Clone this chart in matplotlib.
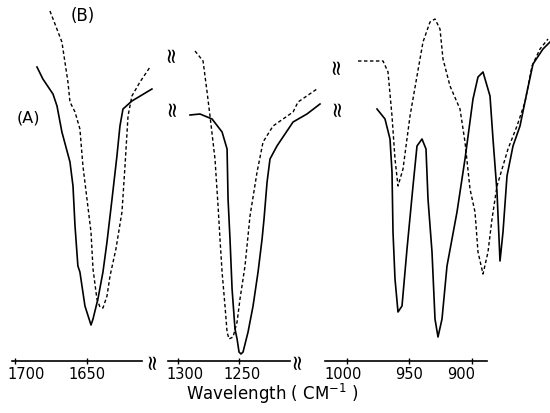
import matplotlib
matplotlib.use("Agg")
import matplotlib.pyplot as plt
from matplotlib.transforms import ScaledTranslation

# Wavenumbers (cm-1) and transmittance (arbitrary units, 0 = baseline)
# Curve (A) solid, curve (B) dashed, three spectral windows

# window 1: 1700-1610
a1_x = [1684.7, 1680.6, 1673.6, 1670.8, 1667.4, 1661.8, 1659.7, 1658.3, 1656.3, 1654.9,
        1651.4, 1647.2, 1645.8, 1642.4, 1638.9, 1636.1, 1632.6, 1629.2, 1627.1, 1625.0,
        1618.8, 1604.9]
a1_y = [294, 282, 267, 255, 229, 199, 175, 135, 95, 89,
        55, 36, 42, 62, 89, 119, 162, 205, 235, 252,
        260, 272]
b1_x = [1675.7, 1672.2, 1667.4, 1665.3, 1663.2, 1661.8, 1658.3, 1654.9, 1652.8, 1650.0,
        1647.2, 1645.8, 1643.1, 1641.0, 1638.9, 1636.1, 1634.0, 1629.9, 1625.7, 1623.6,
        1621.5, 1618.8, 1613.2, 1606.2]
b1_y = [350, 337, 319, 299, 279, 259, 249, 232, 195, 162,
        129, 92, 62, 54, 53, 65, 85, 112, 149, 195,
        245, 265, 279, 294]

# window 2: 1300-1210
a2_x = [1290.2, 1282.0, 1272.1, 1263.9, 1259.8, 1259.0, 1257.4, 1255.7, 1253.3, 1251.6,
        1250.0, 1248.4, 1246.7, 1242.6, 1238.5, 1234.4, 1231.1, 1229.5, 1227.0, 1224.6,
        1218.9, 1205.7, 1194.3, 1183.6]
a2_y = [246, 247, 242, 229, 212, 162, 122, 72, 32, 22,
        9, 7, 9, 29, 55, 89, 122, 142, 179, 202,
        215, 239, 247, 257]
b2_x = [1286.1, 1279.5, 1276.2, 1273.8, 1269.7, 1267.2, 1265.6, 1263.9, 1261.5, 1259.8,
        1258.2, 1254.9, 1251.6, 1249.2, 1245.1, 1241.0, 1235.2, 1230.3, 1222.1, 1213.9,
        1205.7, 1201.6, 1186.1]
b2_y = [310, 300, 269, 245, 202, 155, 122, 89, 55, 29,
        22, 24, 39, 62, 95, 145, 189, 219, 235, 242,
        249, 259, 272]

# window 3: 1000-880
a3_x = [975.6, 969.2, 965.2, 963.6, 962.8, 961.2, 958.8, 955.6, 951.6, 946.8,
        943.6, 939.6, 936.4, 934.8, 931.6, 929.2, 926.8, 923.6, 919.6, 911.6,
        905.2, 898.8, 894.8, 890.8, 885.2, 882.8, 879.6, 877.2, 874.8, 871.6,
        866.8, 861.2, 855.6, 850.8, 842.8, 837.2]
a3_y = [252, 242, 222, 189, 129, 82, 49, 55, 112, 175,
        215, 222, 212, 162, 109, 42, 24, 42, 95, 149,
        202, 262, 284, 289, 265, 222, 169, 100, 129, 185,
        215, 235, 269, 297, 312, 319]
b3_x = [990.8, 970.8, 966.8, 963.6, 961.2, 958.8, 954.8, 949.2, 943.6, 938.8,
        933.2, 929.2, 925.2, 922.8, 917.2, 909.2, 905.2, 901.2, 897.2, 894.8,
        890.8, 886.8, 883.6, 879.6, 870.8, 863.6, 857.2, 851.6, 845.2, 838.8]
b3_y = [300, 300, 289, 245, 202, 175, 192, 245, 285, 319,
        339, 342, 332, 302, 275, 252, 219, 172, 149, 109,
        87, 109, 142, 175, 212, 235, 259, 295, 312, 322]

ticks1 = [1700, 1650]
ticks2 = [1300, 1250]
ticks3 = [1000, 950, 900]

W, H = 550, 414
fig = plt.figure(figsize=(5.5, 4.14), dpi=100, facecolor="white")

# (pixel left, pixel right, xlim, axis-line bounds, data, ticks, label shifts in px)
panels = [
    (5, 160, (1706.9, 1599.3), (1702.1, 1611.8), a1_x, a1_y, b1_x, b1_y, ticks1, [11, 0]),
    (165, 330, (1310.7, 1175.4), (1308.2, 1208.2), a2_x, a2_y, b2_x, b2_y, ticks2, [7, 3]),
    (320, 550, (1021.2, 837.2), (1017.2, 887.6), a3_x, a3_y, b3_x, b3_y, ticks3, [-3, 0, -10]),
]

for left, right, xl, bnd, ax_, ay_, bx_, by_, tk, shifts in panels:
    ax = fig.add_axes([left / W, (H - 362) / H, (right - left) / W, 362 / H])
    ax.patch.set_alpha(0)
    ax.plot(ax_, ay_, color="black", lw=1.2, clip_on=False)
    ax.plot(bx_, by_, color="black", lw=1.0, linestyle=(0, (2.5, 1.8)), clip_on=False)
    ax.set_xlim(*xl)
    ax.set_ylim(0, 362)
    for s in ["top", "left", "right"]:
        ax.spines[s].set_visible(False)
    ax.spines["bottom"].set_bounds(*bnd)
    ax.spines["bottom"].set_linewidth(1.2)
    ax.set_yticks([])
    ax.set_xticks(tk)
    ax.tick_params(axis="x", direction="inout", length=5, width=1, pad=1,
                   labelsize=10.5)
    for lab, dx in zip(ax.get_xticklabels(), shifts):
        lab.set_transform(lab.get_transform() +
                          ScaledTranslation(dx / 100, 0, fig.dpi_scale_trans))

# curve labels
fig.text(28 / W, 1 - 118 / H, "(A)", fontsize=11.5, ha="center", va="center")
fig.text(83 / W, 1 - 16 / H, "(B)", fontsize=12, ha="center", va="center")

# axis break marks
for px, py in [(171, 53), (172, 107), (336, 65), (337, 107), (152, 360), (297, 360)]:
    fig.text(px / W, 1 - py / H, "\u2248", fontsize=15, rotation=90,
             ha="center", va="center")

fig.text(272 / W, 1 - 394 / H, "Wavelength ( CM$^{-1}$ )", fontsize=12,
         ha="center", va="center")

fig.savefig("out.png", dpi=100, facecolor="white")
